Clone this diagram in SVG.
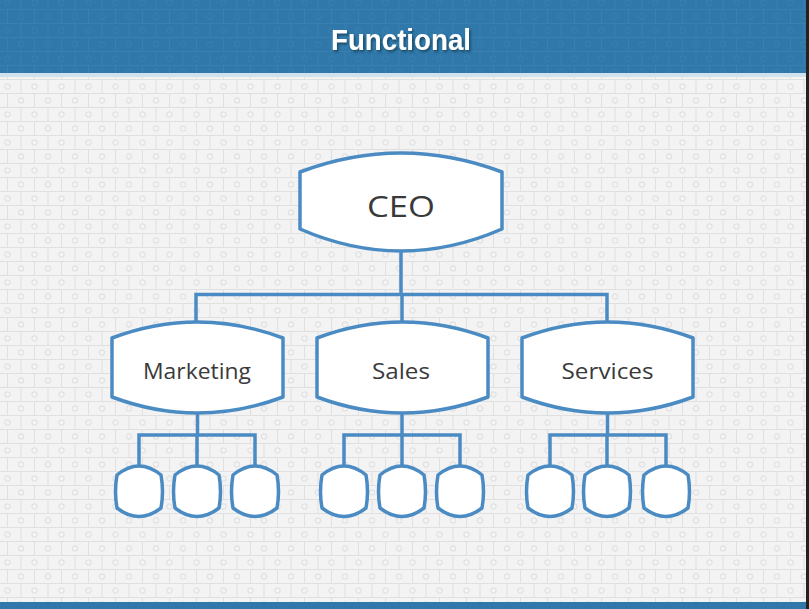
<svg xmlns="http://www.w3.org/2000/svg" width="809" height="609" viewBox="0 0 809 609">
<defs>
<pattern id="bricks" patternUnits="userSpaceOnUse" x="7" y="9" width="27" height="28">
<rect width="27" height="28" fill="#f3f3f3"/>
<path d="M0 0.5H27M0 14.5H27M0.5 0V14M14 14V28" stroke="#e0e0e0" stroke-width="1" fill="none"/>
<circle cx="14" cy="7.5" r="2.7" fill="none" stroke="#dcdcdc" stroke-width="1"/>
<circle cx="0.5" cy="21.5" r="2.7" fill="none" stroke="#dcdcdc" stroke-width="1"/>
<circle cx="27.5" cy="21.5" r="2.7" fill="none" stroke="#dcdcdc" stroke-width="1"/>
</pattern>
<pattern id="bricksDark" patternUnits="userSpaceOnUse" x="7" y="9" width="27" height="28">
<g stroke="#5a93bb" stroke-width="1" fill="none" opacity="0.25">
<path d="M0 0.5H27M0 14.5H27M0.5 0V14M14 14V28"/>
<circle cx="14" cy="7.5" r="2.7"/>
<circle cx="0.5" cy="21.5" r="2.7"/>
<circle cx="27.5" cy="21.5" r="2.7"/>
</g>
</pattern>
<filter id="shadow" x="-10%" y="-30%" width="120%" height="160%">
<feDropShadow dx="1.5" dy="2" stdDeviation="1" flood-color="#10304a" flood-opacity="0.7"/>
</filter>
</defs>
<style>
.box{fill:#ffffff;stroke:#4b8bc3;stroke-width:3.5;stroke-linejoin:round}
.conn{fill:none;stroke:#4b8bc3;stroke-width:3.5;stroke-linejoin:miter}
.lbl{font-family:"Open Sans","Liberation Sans",sans-serif;fill:#3a3a3a;text-anchor:middle}
.title{font-family:"Liberation Sans",Arial,sans-serif;font-weight:bold;font-size:30px;text-anchor:middle;fill:#ffffff}
</style>
<rect width="809" height="609" fill="url(#bricks)"/>
<g id="header">
<rect x="0" y="0" width="809" height="73" fill="#2f78a9"/>
<rect x="0" y="0" width="809" height="73" fill="url(#bricksDark)"/>
<rect x="0" y="73" width="809" height="4" fill="#cfe2ee"/>
<text class="title" x="401" y="50" filter="url(#shadow)" textLength="140" lengthAdjust="spacingAndGlyphs">Functional</text>
</g>
<rect x="0" y="602" width="809" height="7" fill="#2f78a9"/>
<rect x="806" y="0" width="3" height="609" fill="#222222"/>
<g id="connectors">
<path class="conn" d="M401 251V294.5M196 322V294.5H607V322M402 294.5V322"/>
<path class="conn" d="M197.5 413V435M139 466V435H255V466M197 435V466"/>
<path class="conn" d="M402 413V435M344 466V435H460V466M402 435V466"/>
<path class="conn" d="M607.5 413V435M550 466V435H666V466M607 435V466"/>
</g>
<g id="ceo">
<path class="box" d="M300 172Q401 134 502 172L502 229Q401 273 300 229Z"/>
<text class="lbl" x="401" y="217" font-size="29" textLength="68" lengthAdjust="spacingAndGlyphs">CEO</text>
</g>
<g id="marketing">
<path class="box" d="M112 338Q197.5 306 283 338L283 397Q197.5 429 112 397Z"/>
<text class="lbl" x="197" y="379" font-size="21" textLength="108" lengthAdjust="spacingAndGlyphs">Marketing</text>
</g>
<g id="sales">
<path class="box" d="M317 338Q402.5 306 488 338L488 397Q402.5 429 317 397Z"/>
<text class="lbl" x="401" y="379" font-size="21" textLength="58" lengthAdjust="spacingAndGlyphs">Sales</text>
</g>
<g id="services">
<path class="box" d="M522 338Q607.5 306 693 338L693 397Q607.5 429 522 397Z"/>
<text class="lbl" x="607.5" y="379" font-size="21" textLength="92" lengthAdjust="spacingAndGlyphs">Services</text>
</g>
<g id="m1"><path class="box" d="M117 475Q139 457 161 475Q164 491.5 161 508Q139 525 117 508Q114 491.5 117 475Z"/></g>
<g id="m2"><path class="box" d="M175 475Q197 457 219 475Q222 491.5 219 508Q197 525 175 508Q172 491.5 175 475Z"/></g>
<g id="m3"><path class="box" d="M233 475Q255 457 277 475Q280 491.5 277 508Q255 525 233 508Q230 491.5 233 475Z"/></g>
<g id="s1"><path class="box" d="M322 475Q344 457 366 475Q369 491.5 366 508Q344 525 322 508Q319 491.5 322 475Z"/></g>
<g id="s2"><path class="box" d="M380 475Q402 457 424 475Q427 491.5 424 508Q402 525 380 508Q377 491.5 380 475Z"/></g>
<g id="s3"><path class="box" d="M438 475Q460 457 482 475Q485 491.5 482 508Q460 525 438 508Q435 491.5 438 475Z"/></g>
<g id="v1"><path class="box" d="M528 475Q550 457 572 475Q575 491.5 572 508Q550 525 528 508Q525 491.5 528 475Z"/></g>
<g id="v2"><path class="box" d="M585 475Q607 457 629 475Q632 491.5 629 508Q607 525 585 508Q582 491.5 585 475Z"/></g>
<g id="v3"><path class="box" d="M644 475Q666 457 688 475Q691 491.5 688 508Q666 525 644 508Q641 491.5 644 475Z"/></g>
</svg>
